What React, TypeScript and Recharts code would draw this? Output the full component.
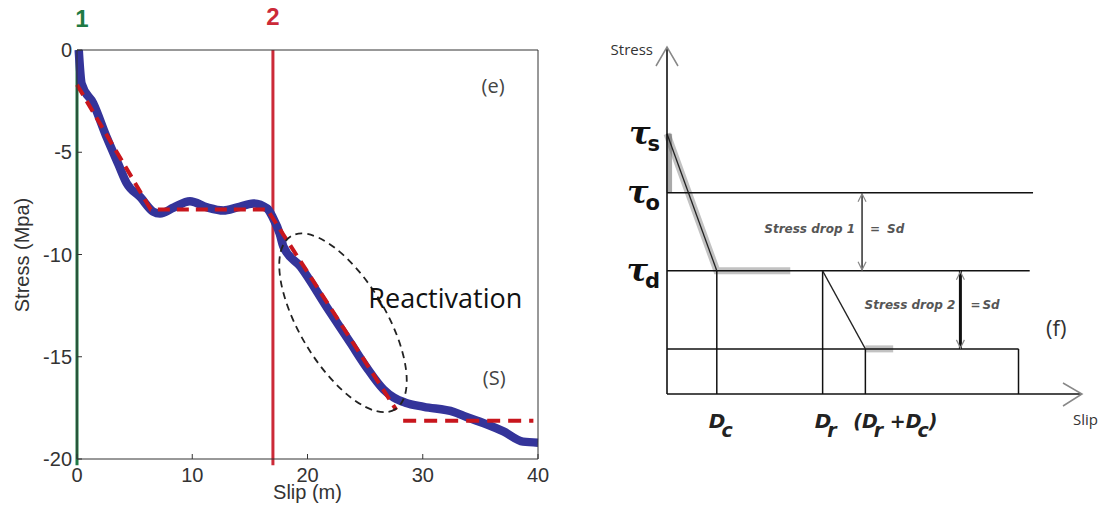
import React from 'react';
import { ComposedChart, Line, XAxis, YAxis, ReferenceLine, ReferenceDot } from 'recharts';

// ---- panel (e): stress vs slip, measured curve
const measuredSlip = [0.15, 0.4, 1.4, 2.6, 3.6, 4.3, 5.5, 6.6, 7.2, 8.4, 9.8, 11.3, 12.7, 13.9, 15.3, 16.5, 17.0, 17.6, 17.9, 19.4, 21.7, 23.7, 25.1, 26.6, 27.5, 28.5, 30.1, 32.7, 33.8, 35.3, 37.0, 38.7, 40];
const measuredStress = [0, -1.65, -2.6, -4.3, -5.6, -6.5, -7.2, -7.9, -8.0, -7.7, -7.4, -7.7, -7.85, -7.7, -7.5, -7.75, -8.2, -9.0, -9.6, -10.6, -12.6, -14.3, -15.5, -16.6, -17.0, -17.25, -17.45, -17.7, -17.95, -18.25, -18.65, -19.15, -19.2];

// dashed linear fit
const fitSlip = [0, 6.4, 16.5, 27.7];
const fitStress = [-1.7, -7.8, -7.8, -17.6];
const residualSlip = [28.3, 39.6];
const residualStress = [-18.13, -18.13];

const slipTicks = [0, 10, 20, 30, 40];
const stressTicks = [-20, -15, -10, -5, 0];

const eventSlip = [0, 17];
const eventNames = ['1', '2'];
const eventColors = ['#1f7a45', '#cc2a38'];

// ---- panel (f): slip-weakening sketch
const tauNames = ['s', 'o', 'd'];
const tauLevels = [7.5, 5.8, 3.55];
const tauResidual = 1.3;
const slipMarks = [1.2, 3.75, 4.78]; // Dc, Dr, Dr+Dc
const slipEnd = 8.47;
const levelEnds = [8.82, 8.74];
const dropSlip = [4.7, 7.07];

const toPoints = (xs: number[], ys: number[]) => xs.map((x, i) => ({ x, y: ys[i] }));

const measured = toPoints(measuredSlip, measuredStress);
const fit = toPoints(fitSlip, fitStress);
const residual = toPoints(residualSlip, residualStress);

const HELV = 'Liberation Sans, Arial, sans-serif';
const SKETCH = 'DejaVu Sans, sans-serif';

const TauTick = ({ x, y, index }: any) => (
  <text x={x} y={y + 10} textAnchor="end" fill="#111">
    <tspan fontFamily="DejaVu Serif, serif" fontSize={32} fontStyle="italic" fontWeight="bold">τ</tspan>
    <tspan fontFamily={SKETCH} fontSize={21} fontWeight="bold" dx={-3} dy={7}>{tauNames[index]}</tspan>
  </text>
);

const SlipTick = ({ x, y, index }: any) => {
  const base = y + 34;
  const font = { fontFamily: SKETCH, fontWeight: 'bold', fontStyle: 'italic', fill: '#222' } as any;
  if (index === 0 || index === 1) {
    return (
      <text x={x - 8} y={base} fontSize={20} {...font}>
        D<tspan dx={-4} dy={9} fontSize={19}>{index === 0 ? 'c' : 'r'}</tspan>
      </text>
    );
  }
  return (
    <text x={x - 12} y={base} fontSize={19} {...font}>
      (D<tspan dx={-4} dy={9}>r</tspan><tspan dy={-9}> +D</tspan><tspan dx={-4} dy={9}>c</tspan><tspan dy={-9}>)</tspan>
    </text>
  );
};

const DropArrow = (props: any) => {
  const { x1, y1, y2, w } = props;
  const top = Math.min(y1, y2);
  const bot = Math.max(y1, y2);
  return (
    <g>
      <line x1={x1} y1={top} x2={x1} y2={bot} stroke="#111" strokeWidth={w} />
      <polyline points={`${x1 - 4},${top + 9} ${x1},${top + 1} ${x1 + 4},${top + 9}`} fill="none" stroke="#888" strokeWidth={1.2} />
      <polyline points={`${x1 - 4},${bot - 9} ${x1},${bot - 1} ${x1 + 4},${bot - 9}`} fill="none" stroke="#888" strokeWidth={1.2} />
    </g>
  );
};

const LeftPanel = () => (
  <ComposedChart width={560} height={508} margin={{ top: 49, right: 21, bottom: 8, left: 0 }}>
    <XAxis type="number" dataKey="x" domain={[0, 40]} ticks={slipTicks} interval={0}
      height={41} tickSize={-5} tickMargin={14} stroke="#333"
      tick={{ fill: '#333', fontSize: 20, fontFamily: HELV }}
      label={{ value: 'Slip (m)', position: 'insideBottom', offset: 1, fill: '#333', fontSize: 20, fontFamily: HELV }} />
    <XAxis xAxisId="top" orientation="top" type="number" dataKey="x" domain={[0, 40]} ticks={slipTicks} interval={0}
      height={1} tickSize={-5} tick={false} stroke="#333" />
    <YAxis type="number" dataKey="y" domain={[-20, 0]} ticks={stressTicks} interval={0}
      width={77} tickSize={-5} tickMargin={10} stroke="#333"
      tick={{ fill: '#333', fontSize: 20, fontFamily: HELV }} />
    <YAxis yAxisId="right" orientation="right" type="number" dataKey="y" domain={[-20, 0]} ticks={stressTicks} interval={0}
      width={1} tickSize={-5} tick={false} stroke="#333" />

    <text transform="translate(28.5,255) rotate(-90)" textAnchor="middle" fill="#333" fontSize={20} fontFamily={HELV}>Stress (Mpa)</text>

    {eventSlip.map((s, i) => (
      <ReferenceLine key={i} segment={[{ x: s, y: 0 }, { x: s, y: -20.3 }]} ifOverflow="visible"
        stroke={eventColors[i]} strokeWidth={3}
        label={{ value: eventNames[i], position: 'top', offset: i === 0 ? 23 : 25, dx: i === 0 ? 5 : 0, fill: eventColors[i], fontSize: 24, fontWeight: 'bold', fontFamily: HELV }} />
    ))}

    <Line data={measured} dataKey="y" type="monotone" stroke="#34349a" strokeWidth={8.5} dot={false} isAnimationActive={false} />
    <Line data={fit} dataKey="y" xAxisId="top" yAxisId="right" type="linear" stroke="#c8161d" strokeWidth={4} strokeDasharray="12 7" dot={false} isAnimationActive={false} />
    <Line data={residual} dataKey="y" xAxisId="top" yAxisId="right" type="linear" stroke="#c8161d" strokeWidth={4} strokeDasharray="13 8" dot={false} isAnimationActive={false} />

    <ReferenceDot x={23.08} y={-13.34} shape={(p: any) => (
      <ellipse cx={p.cx} cy={p.cy} rx={101} ry={43} transform={`rotate(59 ${p.cx} ${p.cy})`}
        fill="none" stroke="#222" strokeWidth={1.8} strokeDasharray="7 5" />
    )} />
    <ReferenceDot x={25.28} y={-12.63} shape={(p: any) => (
      <text x={p.cx} y={p.cy} fill="#111" fontSize={27} fontFamily="Open Sans, sans-serif">Reactivation</text>
    )} />
    <ReferenceDot x={36.1} y={-1.73} shape={(p: any) => (
      <text x={p.cx} y={p.cy} textAnchor="middle" dominantBaseline="central" fill="#444" fontSize={20} fontFamily="Open Sans, sans-serif">(e)</text>
    )} />
    <ReferenceDot x={36.2} y={-16.0} shape={(p: any) => (
      <text x={p.cx} y={p.cy} textAnchor="middle" dominantBaseline="central" fill="#444" fontSize={20} fontFamily="Open Sans, sans-serif">(S)</text>
    )} />
  </ComposedChart>
);

const RightPanel = () => {
  const [tauS, tauO, tauD] = tauLevels;
  const [dc, dr, drdc] = slipMarks;
  const slope1 = toPoints([0, dc], [tauS, tauD]);
  const slope2 = toPoints([dr, drdc], [tauD, tauResidual]);
  const shadow1 = toPoints([0, dc, 2.97], [tauS, tauD, tauD]);
  const shadow2 = toPoints([drdc, 5.45], [tauResidual, tauResidual]);
  const shadowAxis = toPoints([0.05, 0.05], [tauS, tauO]);
  const seg = (x1: number, y1: number, x2: number, y2: number) => [{ x: x1, y: y1 }, { x: x2, y: y2 }];
  return (
    <ComposedChart width={520} height={508} margin={{ top: 47, right: 28, bottom: 0, left: 0 }}>
      <XAxis type="number" dataKey="x" domain={[0, 10]} ticks={slipMarks} interval={0}
        height={114} tickSize={0} tickMargin={0} tickLine={false}
        axisLine={{ stroke: '#111', strokeWidth: 1.6 }} tick={(p: any) => <SlipTick {...p} />} />
      <YAxis type="number" dataKey="y" domain={[0, 10]} ticks={tauLevels} interval={0}
        width={77} tickSize={0} tickMargin={7} tickLine={false}
        axisLine={{ stroke: '#111', strokeWidth: 1.6 }} tick={(p: any) => <TauTick {...p} />} />

      <Line data={shadow1} dataKey="y" type="linear" stroke="#777" strokeOpacity={0.45} strokeWidth={7} dot={false} isAnimationActive={false} />
      <Line data={shadow2} dataKey="y" type="linear" stroke="#777" strokeOpacity={0.45} strokeWidth={7} dot={false} isAnimationActive={false} />
      <Line data={shadowAxis} dataKey="y" type="linear" stroke="#555" strokeOpacity={0.5} strokeWidth={6} dot={false} isAnimationActive={false} />

      <ReferenceLine segment={seg(0, tauO, levelEnds[0], tauO)} stroke="#111" strokeWidth={1.5} />
      <ReferenceLine segment={seg(0, tauD, levelEnds[1], tauD)} stroke="#111" strokeWidth={1.5} />
      <ReferenceLine segment={seg(0, tauResidual, slipEnd, tauResidual)} stroke="#111" strokeWidth={1.5} />
      <ReferenceLine segment={seg(dc, 0, dc, tauD)} stroke="#111" strokeWidth={1.5} />
      <ReferenceLine segment={seg(dr, 0, dr, tauD)} stroke="#111" strokeWidth={1.5} />
      <ReferenceLine segment={seg(drdc, 0, drdc, tauResidual)} stroke="#111" strokeWidth={1.5} />
      <ReferenceLine segment={seg(slipEnd, 0, slipEnd, tauResidual)} stroke="#111" strokeWidth={1.5} />

      <Line data={slope1} dataKey="y" type="linear" stroke="#222" strokeWidth={1.3} dot={false} isAnimationActive={false} />
      <Line data={slope2} dataKey="y" type="linear" stroke="#222" strokeWidth={1.3} dot={false} isAnimationActive={false} />

      <ReferenceLine segment={seg(dropSlip[0], tauD, dropSlip[0], tauO)} shape={(p: any) => <DropArrow {...p} w={1.3} />} />
      <ReferenceLine segment={seg(dropSlip[1], tauResidual, dropSlip[1], tauD)} shape={(p: any) => <DropArrow {...p} w={3} />} />

      <ReferenceDot x={dropSlip[0]} y={(tauO + tauD) / 2} shape={(p: any) => (
        <g fill="#555" fontSize={12} fontFamily={SKETCH} fontWeight="bold" fontStyle="italic">
          <text x={p.cx - 7} y={p.cy - 3} textAnchor="end" dominantBaseline="central">Stress drop 1</text>
          <text x={p.cx + 8} y={p.cy - 3} dominantBaseline="central">=</text>
          <text x={p.cx + 25} y={p.cy - 3} dominantBaseline="central">Sd</text>
        </g>
      )} />
      <ReferenceDot x={dropSlip[1]} y={(tauD + tauResidual) / 2} shape={(p: any) => (
        <g fill="#555" fontSize={12} fontFamily={SKETCH} fontWeight="bold" fontStyle="italic">
          <text x={p.cx - 5} y={p.cy - 5} textAnchor="end" dominantBaseline="central">Stress drop 2</text>
          <text x={p.cx + 10} y={p.cy - 5} dominantBaseline="central">=</text>
          <text x={p.cx + 22} y={p.cy - 5} dominantBaseline="central">Sd</text>
        </g>
      )} />
      <ReferenceDot x={9.38} y={1.93} shape={(p: any) => (
        <text x={p.cx} y={p.cy} textAnchor="middle" dominantBaseline="central" fill="#333" fontSize={22} fontFamily="Open Sans, sans-serif">(f)</text>
      )} />

      <ReferenceDot x={0} y={10} shape={(p: any) => (
        <g>
          <polyline points={`${p.cx - 11},${p.cy + 19} ${p.cx},${p.cy} ${p.cx + 11},${p.cy + 19}`} fill="none" stroke="#888" strokeWidth={1.5} />
          <text x={p.cx - 14} y={p.cy + 8} textAnchor="end" fill="#333" fontSize={15} fontFamily="Open Sans, sans-serif">Stress</text>
        </g>
      )} />
      <ReferenceDot x={10} y={0} shape={(p: any) => (
        <g>
          <polyline points={`${p.cx - 19},${p.cy - 11} ${p.cx},${p.cy} ${p.cx - 19},${p.cy + 12}`} fill="none" stroke="#888" strokeWidth={1.5} />
          <text x={p.cx - 9} y={p.cy + 31} fill="#333" fontSize={15} fontFamily="Open Sans, sans-serif">Slip</text>
        </g>
      )} />
    </ComposedChart>
  );
};

export default function App() {
  return (
    <div style={{ position: 'absolute', left: 0, top: 0, width: 1110, height: 508, background: '#fff', overflow: 'hidden' }}>
      <div style={{ position: 'absolute', left: 0, top: 0 }}>
        <LeftPanel />
      </div>
      <div style={{ position: 'absolute', left: 590, top: 0 }}>
        <RightPanel />
      </div>
    </div>
  );
}
